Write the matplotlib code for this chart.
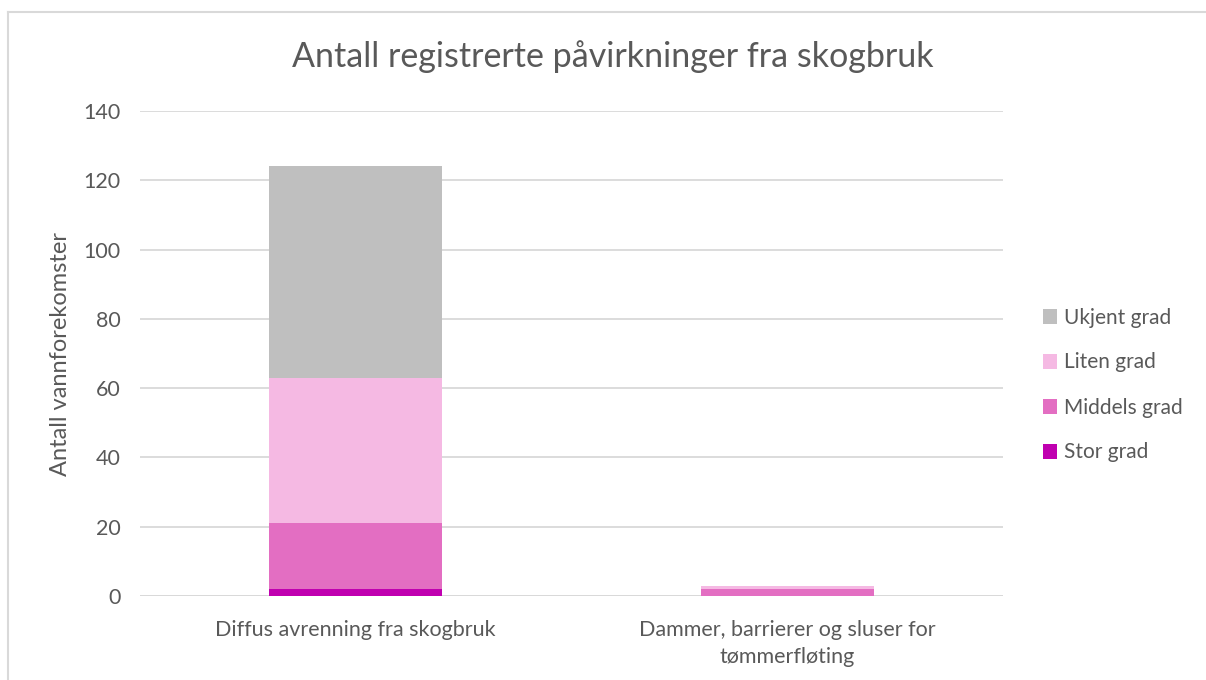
import matplotlib.pyplot as plt
from matplotlib.lines import Line2D
import numpy as np

categories = ["Diffus avrenning fra skogbruk", "Dammer, barrierer og sluser for\ntømmerfløting"]
series = ["Stor grad", "Middels grad", "Liten grad", "Ukjent grad"]
stor = [2, 0]
middels = [19, 2]
liten = [42, 1]
ukjent = [61, 0]
colors = ["#C000B0", "#E36EC2", "#F5B9E3", "#BFBFBF"]
yticks = [0, 20, 40, 60, 80, 100, 120, 140]

plt.rcParams['font.family'] = ['Lato', 'DejaVu Sans']
txt = '#595959'

fig = plt.figure(figsize=(12.06, 6.8), dpi=100)
ax = fig.add_axes([140/1206, 1-596/680, (1003-140)/1206, (596-111)/680])

x = np.arange(len(categories))
bottom = np.zeros(len(categories))
handles = []
for name, vals, c in zip(series, [stor, middels, liten, ukjent], colors):
    b = ax.bar(x, vals, width=0.4, bottom=bottom, color=c, label=name, zorder=3)
    bottom += np.array(vals)
    handles.append(b)

ax.set_xlim(-0.5, 1.5)
ax.set_ylim(0, 140)
ax.set_yticks(yticks)
ax.set_xticks(x)
ax.set_xticklabels(categories, fontsize=15.5, color=txt, linespacing=1.45)
ax.tick_params(axis='y', labelsize=15.5, labelcolor=txt, length=0, pad=14)
ax.tick_params(axis='x', length=0, pad=17)
ax.grid(axis='y', color='#D9D9D9', linewidth=1.3, zorder=0)
for s in ax.spines.values():
    s.set_visible(False)
ax.axhline(0, color='#D9D9D9', linewidth=1.3, zorder=2)
ax.set_ylabel("Antall vannforekomster", fontsize=17, color=txt, labelpad=9)

fig.text(613/1206, 1-57/680, "Antall registrerte påvirkninger fra skogbruk",
         ha='center', va='center', fontsize=24.5, color=txt)

leg = fig.legend(handles[::-1], series[::-1], loc='center left',
                 bbox_to_anchor=(1024/1206, 1-385/680), frameon=False,
                 fontsize=15, labelcolor=txt, handlelength=0.7, handleheight=0.7,
                 handletextpad=0.3, labelspacing=1.2)

# chart border
fig.add_artist(Line2D([8/1206, 8/1206], [0, 1-12/680], transform=fig.transFigure, color='#D9D9D9', lw=1.5))
fig.add_artist(Line2D([8/1206, 1], [1-12/680, 1-12/680], transform=fig.transFigure, color='#D9D9D9', lw=1.5))

fig.savefig("out.png", dpi=100)
